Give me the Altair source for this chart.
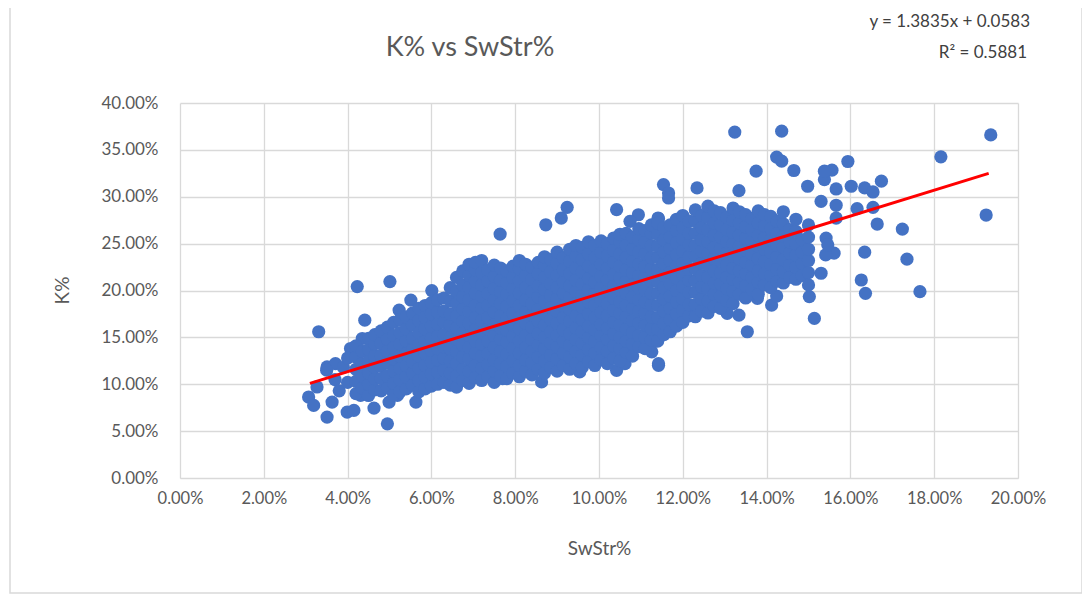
import altair as alt
import pandas as pd

# Outlying / edge points: (SwStr %, K %)
edge_points = [
    (19.35, 36.6), (18.16, 34.26), (19.24, 28.05), (15.94, 33.76), (15.56, 32.84),
    (16.74, 31.66), (16.02, 31.12), (16.34, 30.94), (16.54, 30.51), (15.66, 30.83),
    (15.38, 31.83), (15.3, 29.5), (15.66, 29.09), (16.16, 28.73), (16.54, 28.87),
    (15.66, 27.73), (16.64, 27.09), (17.24, 26.55), (16.34, 24.09), (17.35, 23.34),
    (15.61, 23.98), (15.41, 23.8), (15.3, 21.84), (16.26, 21.12), (16.36, 19.7),
    (17.66, 19.88), (15.42, 25.59), (15.46, 24.87),
    (13.24, 36.9), (14.36, 37.0), (14.24, 34.23), (14.36, 33.8), (14.65, 32.8),
    (13.75, 32.73), (15.38, 32.73), (11.54, 31.3), (11.66, 30.4), (12.34, 30.94),
    (13.34, 30.65), (14.98, 31.12), (11.41, 27.73), (14.26, 27.01), (15.14, 17.02),
    (13.54, 15.6), (14.12, 18.45), (14.24, 19.41), (15.02, 19.35), (13.34, 17.38),
    (13.06, 17.56), (13.78, 19.16), (12.26, 18.28), (11.82, 16.67), (11.26, 16.67),
    (11.26, 15.06), (11.26, 13.46), (11.42, 12.02),
    (9.24, 28.87), (9.1, 27.73), (8.73, 27.01), (7.64, 26.02), (10.42, 28.62),
    (10.94, 28.08), (10.74, 27.38), (11.42, 27.66), (11.66, 29.87), (9.54, 11.32),
    (8.63, 10.25), (9.74, 12.56), (10.42, 11.49), (10.62, 12.2), (11.42, 12.2),
    (10.1, 12.74), (11.22, 14.16), (11.14, 15.24), (8.33, 11.32), (7.7, 10.6),
    (4.23, 20.42), (5.01, 20.95), (3.31, 15.6), (4.41, 16.84), (6.01, 19.99),
    (5.51, 18.98), (5.23, 17.91), (4.95, 5.78), (3.51, 6.5), (3.99, 7.03),
    (4.15, 7.21), (3.63, 8.1), (4.63, 7.46), (3.07, 8.64), (3.19, 7.74),
    (5.63, 8.1), (3.27, 9.71), (3.51, 11.85), (3.71, 12.2), (4.31, 8.81),
    (4.47, 9.53), (4.99, 8.1), (5.19, 8.81), (4.35, 14.88), (4.07, 13.81),
    (4.95, 15.95), (3.5, 11.5), (3.7, 10.5), (3.9, 11.8), (3.8, 9.3), (4.0, 12.8), (4.0, 10.2),
]

# Dense core of the cloud, read column by column: SwStr % -> K % values
core_columns = [
    (4.2, [9.0, 10.3, 11.6, 12.9, 14.1]),
    (4.35, [9.6, 10.9, 12.2, 13.5]),
    (4.5, [8.8, 10.0, 11.2, 12.4, 13.7, 14.9]),
    (4.65, [9.4, 10.6, 11.8, 13.0, 14.3, 15.3]),
    (4.8, [9.3, 10.6, 11.9, 13.1, 14.4, 15.7]),
    (4.95, [9.6, 10.9, 12.3, 13.5, 14.8, 16.1]),
    (5.1, [8.9, 10.1, 11.4, 12.7, 13.9, 15.2, 16.6]),
    (5.25, [9.2, 10.5, 11.7, 13.0, 14.3, 15.5, 16.9]),
    (5.4, [9.5, 10.8, 12.0, 13.3, 14.6, 15.9, 17.2]),
    (5.55, [9.9, 11.2, 12.4, 13.7, 14.9, 16.3, 17.6]),
    (5.7, [9.2, 10.4, 11.7, 13.0, 14.2, 15.5, 16.8, 18.1]),
    (5.85, [9.5, 10.8, 12.0, 13.3, 14.6, 15.9, 17.1, 18.4]),
    (6.0, [9.8, 11.1, 12.4, 13.6, 14.9, 16.2, 17.5, 18.7]),
    (6.15, [10.0, 11.3, 12.6, 13.8, 15.1, 16.4, 17.7, 19.0]),
    (6.3, [10.2, 11.5, 12.8, 14.0, 15.3, 16.6, 17.8, 19.2]),
    (6.45, [9.9, 11.2, 12.5, 13.8, 15.0, 16.3, 17.5, 18.9, 20.3]),
    (6.6, [9.7, 10.9, 12.2, 13.5, 14.8, 16.0, 17.3, 18.6, 19.9, 21.4]),
    (6.75, [10.4, 11.6, 12.9, 14.2, 15.5, 16.7, 18.0, 19.3, 20.6, 22.1]),
    (6.9, [10.1, 11.4, 12.7, 13.9, 15.2, 16.5, 17.8, 19.0, 20.3, 21.6, 22.8]),
    (7.05, [10.7, 12.0, 13.3, 14.6, 15.8, 17.1, 18.4, 19.7, 21.0, 22.2, 23.0]),
    (7.2, [10.4, 11.7, 13.0, 14.3, 15.5, 16.8, 18.1, 19.4, 20.6, 21.9, 23.2]),
    (7.35, [10.8, 12.1, 13.3, 14.6, 15.9, 17.1, 18.4, 19.7, 21.0, 22.2]),
    (7.5, [10.2, 11.4, 12.6, 13.9, 15.2, 16.4, 17.7, 19.0, 20.2, 21.5, 22.7]),
    (7.65, [10.9, 12.2, 13.5, 14.8, 16.0, 17.3, 18.6, 19.9, 21.1, 22.4]),
    (7.8, [10.6, 11.9, 13.2, 14.5, 15.8, 17.0, 18.3, 19.6, 20.8, 22.1]),
    (7.95, [11.2, 12.5, 13.8, 15.1, 16.3, 17.6, 18.9, 20.2, 21.4, 22.6]),
    (8.1, [10.8, 12.0, 13.3, 14.6, 15.9, 17.1, 18.4, 19.7, 21.0, 22.3, 23.2]),
    (8.25, [11.4, 12.6, 13.9, 15.2, 16.5, 17.7, 19.0, 20.3, 21.6, 22.8]),
    (8.4, [11.0, 12.3, 13.5, 14.8, 16.1, 17.4, 18.6, 19.9, 21.2, 22.5]),
    (8.55, [11.6, 12.9, 14.2, 15.4, 16.7, 18.0, 19.3, 20.5, 21.8, 23.0]),
    (8.7, [11.2, 12.5, 13.8, 15.0, 16.3, 17.6, 18.9, 20.1, 21.4, 22.7, 23.6]),
    (8.85, [11.8, 13.1, 14.4, 15.6, 16.9, 18.2, 19.5, 20.7, 22.0, 23.3]),
    (9.0, [11.4, 12.7, 14.0, 15.2, 16.5, 17.8, 19.1, 20.3, 21.6, 22.9, 24.1]),
    (9.15, [12.0, 13.3, 14.6, 15.8, 17.1, 18.4, 19.7, 20.9, 22.2, 23.5]),
    (9.3, [11.6, 12.9, 14.2, 15.4, 16.7, 18.0, 19.3, 20.5, 21.8, 23.1, 24.4]),
    (9.45, [12.2, 13.5, 14.8, 16.0, 17.3, 18.6, 19.9, 21.1, 22.4, 23.7, 24.8]),
    (9.6, [11.8, 13.1, 14.4, 15.6, 16.9, 18.2, 19.5, 20.7, 22.0, 23.3, 24.6]),
    (9.75, [12.4, 13.7, 15.0, 16.2, 17.5, 18.8, 20.1, 21.3, 22.6, 23.9, 25.2]),
    (9.9, [12.0, 13.3, 14.6, 15.8, 17.1, 18.4, 19.7, 20.9, 22.2, 23.5, 24.8]),
    (10.05, [12.6, 13.9, 15.2, 16.4, 17.7, 19.0, 20.3, 21.5, 22.8, 24.1, 25.3]),
    (10.2, [12.2, 13.5, 14.8, 16.0, 17.3, 18.6, 19.9, 21.1, 22.4, 23.7, 25.0]),
    (10.35, [12.8, 14.1, 15.4, 16.6, 17.9, 19.2, 20.5, 21.7, 23.0, 24.3, 25.6]),
    (10.5, [12.5, 13.8, 15.0, 16.3, 17.6, 18.8, 20.1, 21.4, 22.6, 23.9, 25.2, 26.0]),
    (10.65, [13.4, 14.6, 15.9, 17.2, 18.4, 19.7, 21.0, 22.2, 23.5, 24.8, 26.1]),
    (10.8, [13.0, 14.3, 15.5, 16.8, 18.1, 19.3, 20.6, 21.9, 23.1, 24.4, 25.7]),
    (10.95, [14.0, 15.2, 16.5, 17.8, 19.0, 20.3, 21.6, 22.8, 24.1, 25.4, 26.6]),
    (11.1, [13.8, 15.0, 16.3, 17.6, 18.8, 20.1, 21.4, 22.6, 23.9, 25.2, 26.4]),
    (11.25, [14.7, 15.9, 17.2, 18.5, 19.7, 21.0, 22.3, 23.5, 24.8, 26.1, 27.0]),
    (11.4, [14.6, 15.9, 17.1, 18.4, 19.7, 20.9, 22.2, 23.5, 24.7, 26.0, 27.2]),
    (11.55, [15.3, 16.5, 17.8, 19.1, 20.3, 21.6, 22.9, 24.1, 25.4, 26.7]),
    (11.7, [15.6, 16.9, 18.1, 19.4, 20.7, 21.9, 23.2, 24.5, 25.7, 27.0]),
    (11.85, [16.2, 17.5, 18.8, 20.0, 21.3, 22.6, 23.8, 25.1, 26.4, 27.6]),
    (12.0, [16.6, 17.9, 19.1, 20.4, 21.7, 22.9, 24.2, 25.5, 26.7, 28.0]),
    (12.15, [17.3, 18.5, 19.8, 21.1, 22.3, 23.6, 24.9, 26.1, 27.4]),
    (12.3, [17.2, 18.5, 19.8, 21.0, 22.3, 23.6, 24.8, 26.1, 27.4, 28.6]),
    (12.45, [17.8, 19.1, 20.4, 21.6, 22.9, 24.2, 25.4, 26.7, 28.0]),
    (12.6, [17.6, 18.9, 20.2, 21.4, 22.7, 24.0, 25.2, 26.5, 27.8, 29.0]),
    (12.75, [18.3, 19.6, 20.8, 22.1, 23.4, 24.6, 25.9, 27.2, 28.5]),
    (12.9, [18.1, 19.4, 20.7, 21.9, 23.2, 24.5, 25.7, 27.0, 28.3]),
    (13.05, [18.9, 20.2, 21.4, 22.7, 24.0, 25.2, 26.5, 27.8]),
    (13.2, [18.6, 19.9, 21.2, 22.4, 23.7, 25.0, 26.2, 27.5, 28.8]),
    (13.35, [19.6, 20.9, 22.1, 23.4, 24.7, 25.9, 27.2, 28.4]),
    (13.5, [19.2, 20.5, 21.8, 23.0, 24.3, 25.6, 26.8, 28.1]),
    (13.65, [20.1, 21.4, 22.7, 23.9, 25.2, 26.5, 27.7]),
    (13.8, [19.6, 20.9, 22.1, 23.4, 24.7, 25.9, 27.2, 28.5]),
    (13.95, [20.6, 21.8, 23.1, 24.4, 25.6, 26.9, 28.1]),
    (14.1, [20.3, 21.6, 22.8, 24.1, 25.4, 26.6, 27.9]),
    (14.25, [21.0, 22.3, 23.6, 24.8, 26.1, 27.4]),
    (14.4, [20.8, 22.0, 23.3, 24.6, 25.8, 27.1, 28.4]),
    (14.55, [21.4, 22.7, 24.0, 25.2, 26.5]),
    (14.7, [21.2, 22.5, 23.8, 25.0, 26.3, 27.6]),
    (14.85, [21.6, 22.9, 24.1, 25.4]),
    (15.0, [20.6, 21.9, 23.2, 24.4, 25.7, 27.0]),
]

# Trend line end points (as drawn)
trend_x = [3.1, 19.3]
trend_y = [10.1, 32.5]

chart_title = "K% vs SwStr%"
equation_lines = ["y = 1.3835x + 0.0583", "R\u00b2 = 0.5881"]

x_ticks = [0, 2, 4, 6, 8, 10, 12, 14, 16, 18, 20]
y_ticks = [0, 5, 10, 15, 20, 25, 30, 35, 40]

rows = [{"swstr": x, "k": y} for x, y in edge_points]
for cx, ys in core_columns:
    rows += [{"swstr": cx, "k": y} for y in ys]
pts = pd.DataFrame(rows)
trend = pd.DataFrame({"swstr": trend_x, "k": trend_y})

FONT = "Lato"
GREY = "#595959"
pct = "format(datum.value, '.2f') + '%'"

xs = alt.Scale(domain=[0, 20], nice=False)
ys_ = alt.Scale(domain=[0, 40], nice=False)

scatter = alt.Chart(pts).mark_circle(size=175, opacity=1, color="#4472C4").encode(
    x=alt.X("swstr:Q", scale=xs, axis=alt.Axis(
        values=x_ticks, labelExpr=pct, title="SwStr%", titleX=419, titleY=70,
        titleBaseline="middle", labelPadding=12, labelOverlap=False,
        labelFlush=False, labelFontSize=16.5)),
    y=alt.Y("k:Q", scale=ys_, axis=alt.Axis(
        values=y_ticks, labelExpr=pct, title="K%", titleX=-118, titleY=187,
        titleBaseline="middle", labelPadding=22, labelOverlap=False,
        labelFlush=False)),
)

line = alt.Chart(trend).mark_line(color="#FF0000", strokeWidth=3).encode(
    x=alt.X("swstr:Q", scale=xs), y=alt.Y("k:Q", scale=ys_)
)

title_txt = alt.Chart(pd.DataFrame({"t": [chart_title]})).mark_text(
    font=FONT, fontSize=27, color=GREY, align="center", baseline="middle"
).encode(text="t:N", x=alt.value(290), y=alt.value(-55))

eq1 = alt.Chart(pd.DataFrame({"t": [equation_lines[0]]})).mark_text(
    font=FONT, fontSize=17, color="#404040", align="right", baseline="middle"
).encode(text="t:N", x=alt.value(850), y=alt.value(-81))
eq2 = alt.Chart(pd.DataFrame({"t": [equation_lines[1]]})).mark_text(
    font=FONT, fontSize=17, color="#404040", align="right", baseline="middle"
).encode(text="t:N", x=alt.value(847), y=alt.value(-50))

frame = alt.Chart(pd.DataFrame({"a": [0]})).mark_rect(
    fill="transparent", stroke="#d9d9d9", strokeWidth=1.5
).encode(x=alt.value(-170), x2=alt.value(902), y=alt.value(-101), y2=alt.value(490))

chart = alt.layer(frame, scatter, line, title_txt, eq1, eq2).properties(
    width=838, height=375,
    background="white",
    autosize=alt.AutoSizeParams(type="none"),
    padding={"left": 172, "top": 95, "right": 64, "bottom": 116},
).configure_view(stroke=None).configure_axis(
    gridColor="#d9d9d9", gridWidth=1.3, domainColor="#d9d9d9", ticks=False,
    labelFont=FONT, labelFontSize=17, labelColor=GREY,
    titleFont=FONT, titleFontSize=19, titleColor=GREY, titleFontWeight="normal",
).configure_axisY(domain=False)

chart.save("out.html", embed_options={"renderer": "svg", "actions": False})
